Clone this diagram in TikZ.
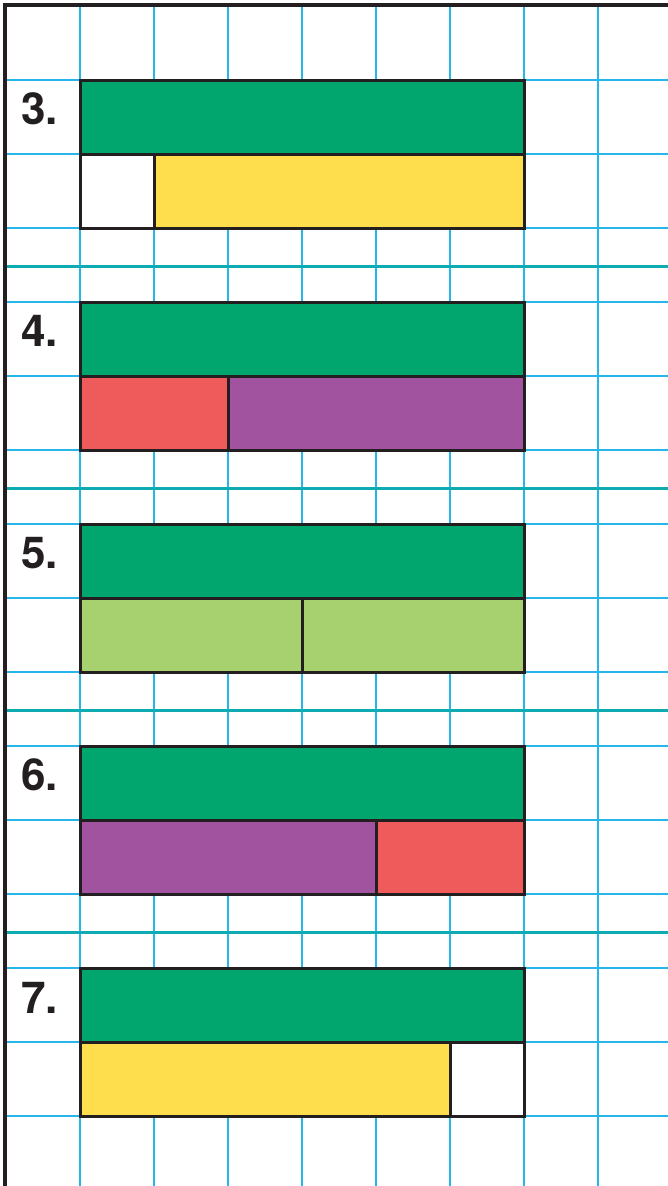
\documentclass[tikz,border=0pt]{standalone}
\usepackage{fontspec}
\setmainfont{TeX Gyre Heros}
\definecolor{gridblue}{RGB}{38,182,234}
\definecolor{septeal}{RGB}{14,172,178}
\definecolor{inkblack}{RGB}{35,31,32}
\definecolor{bargreen}{RGB}{0,166,110}
\definecolor{baryellow}{RGB}{254,222,77}
\definecolor{barred}{RGB}{239,90,90}
\definecolor{barpurple}{RGB}{161,83,159}
\definecolor{barlime}{RGB}{166,209,110}
\tikzset{
  gridline/.style={draw=gridblue, line width=1.4pt},
  sepline/.style={draw=septeal, line width=2.8pt},
  frameline/.style={draw=inkblack, line width=3.2pt},
  barbox/.style={draw=inkblack, line width=3pt, rectangle, inner sep=0pt, outer sep=0pt, anchor=north west},
  numlabel/.style={anchor=base west, inner sep=0pt, font=\fontsize{44}{44}\selectfont\bfseries, text=inkblack}
}
\begin{document}
\begin{tikzpicture}[x=1pt,y=-1pt]
\useasboundingbox[fill=white] (0,0) rectangle (668,1186);
% vertical grid lines
\foreach \gx in {80,154,228,302,376,450,524,598}
  \draw[gridline] (\gx,5) -- (\gx,1186);
% horizontal grid lines
\foreach \gy in {80,154,228,302,376,450,524,598,672,746,820,894,968,1042,1116}
  \draw[gridline] (5,\gy) -- (668,\gy);
% separators
\foreach \sy in {266.5,488.5,710.5,932.5}
  \draw[sepline] (5,\sy) -- (668,\sy);
% frame
\draw[frameline] (5,1186) -- (5,5) -- (668,5);
% section 3
\node[barbox, fill=bargreen, minimum width=444pt, minimum height=74pt] (g3) at (80,80) {};
\node[barbox, fill=white, minimum width=74pt, minimum height=74pt] (a3) at (80,154) {};
\node[barbox, fill=baryellow, minimum width=370pt, minimum height=74pt] (b3) at (154,154) {};
\node[numlabel] (l3) at (21,124) {3.};
% section 4
\node[barbox, fill=bargreen, minimum width=444pt, minimum height=74pt] (g4) at (80,302) {};
\node[barbox, fill=barred, minimum width=148pt, minimum height=74pt] (a4) at (80,376) {};
\node[barbox, fill=barpurple, minimum width=296pt, minimum height=74pt] (b4) at (228,376) {};
\node[numlabel] (l4) at (21,346) {4.};
% section 5
\node[barbox, fill=bargreen, minimum width=444pt, minimum height=74pt] (g5) at (80,524) {};
\node[barbox, fill=barlime, minimum width=222pt, minimum height=74pt] (a5) at (80,598) {};
\node[barbox, fill=barlime, minimum width=222pt, minimum height=74pt] (b5) at (302,598) {};
\node[numlabel] (l5) at (21,568) {5.};
% section 6
\node[barbox, fill=bargreen, minimum width=444pt, minimum height=74pt] (g6) at (80,746) {};
\node[barbox, fill=barpurple, minimum width=296pt, minimum height=74pt] (a6) at (80,820) {};
\node[barbox, fill=barred, minimum width=148pt, minimum height=74pt] (b6) at (376,820) {};
\node[numlabel] (l6) at (21,790) {6.};
% section 7
\node[barbox, fill=bargreen, minimum width=444pt, minimum height=74pt] (g7) at (80,968) {};
\node[barbox, fill=baryellow, minimum width=370pt, minimum height=74pt] (a7) at (80,1042) {};
\node[barbox, fill=white, minimum width=74pt, minimum height=74pt] (b7) at (450,1042) {};
\node[numlabel] (l7) at (21,1013) {7.};
\end{tikzpicture}
\end{document}
